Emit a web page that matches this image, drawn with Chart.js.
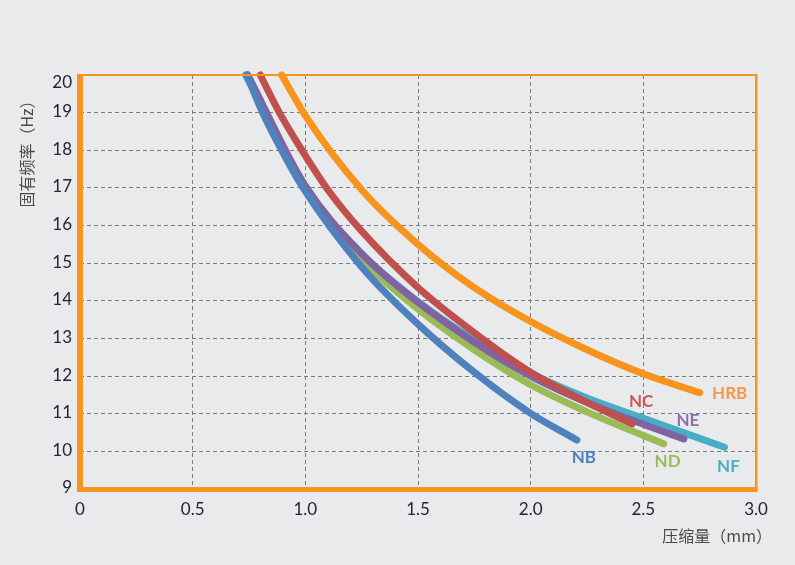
<!DOCTYPE html>
<html lang="zh">
<head>
    <meta charset="UTF-8">
    <title>固有频率 - 压缩量</title>
    <script src="https://cdn.jsdelivr.net/npm/chart.js"></script>
    <style>
        body {
            margin: 0;
            background-color: #e9eaec;
        }
        #wrap {
            width: 795px;
            height: 565px;
        }
    </style>
</head>
<body>

<div id="wrap">
    <canvas id="freqChart" width="795" height="565"></canvas>
</div>

<script>
    // 系列名称
    const seriesNames = ["NB", "NC", "ND", "NE", "NF", "HRB"];

    // 压缩量 (mm) 与 固有频率 (Hz)
    const nbX  = [0.74, 0.81, 0.895, 0.99, 1.25, 1.5, 1.75, 2.0, 2.205];
    const nbY  = [20, 19, 18, 17, 14.9, 13.38, 12.1, 11.01, 10.30];

    const ncX  = [0.80, 0.885, 0.985, 1.1, 1.25, 1.5, 1.75, 2.0, 2.25, 2.45];
    const ncY  = [20, 19, 18, 16.95, 15.85, 14.35, 13.15, 12.1, 11.3, 10.73];

    const ndX  = [0.74, 1.0, 1.25, 1.5, 1.75, 2.0, 2.25, 2.5, 2.59];
    const ndY  = [20, 16.95, 15.1, 13.78, 12.7, 11.77, 11.05, 10.42, 10.2];

    const neX  = [0.745, 1.0, 1.25, 1.5, 1.75, 2.0, 2.25, 2.5, 2.68];
    const neY  = [20, 17.05, 15.25, 13.96, 12.9, 12.0, 11.3, 10.72, 10.33];

    const nfX  = [0.735, 1.0, 1.25, 1.5, 1.75, 2.0, 2.25, 2.5, 2.86];
    const nfY  = [20, 17.05, 15.25, 13.98, 12.95, 12.08, 11.42, 10.88, 10.11];

    const hrbX = [0.895, 1.0, 1.25, 1.5, 1.75, 2.0, 2.25, 2.5, 2.75];
    const hrbY = [20, 18.92, 16.95, 15.5, 14.35, 13.45, 12.7, 12.06, 11.56];

    // 坐标轴刻度
    const xTicks = [0, 0.5, 1.0, 1.5, 2.0, 2.5, 3.0];
    const yTicks = [9, 10, 11, 12, 13, 14, 15, 16, 17, 18, 19, 20];

    const xValues = [nbX, ncX, ndX, neX, nfX, hrbX];
    const yValues = [nbY, ncY, ndY, neY, nfY, hrbY];

    // 样式
    const lineColors  = ['#4f81bd', '#c0504d', '#9bbb59', '#8064a2', '#4bacc6', '#f7941d'];
    const labelColors = ['#4f81bd', '#c55a57', '#9bbb59', '#8a6fac', '#4bacc6', '#f9964a'];
    const drawOrder   = [1, 2, 4, 3, 5, 0];
    // 标签相对于曲线末端的偏移 (px)
    const labelOffsets = [[7, 17], [9, -22], [4, 18], [4, -18], [4, 19], [30, 1]];

    const orange = '#f7941d';
    const tickFont = '17px Lato, sans-serif';
    const tickColor = '#23233a';

    const datasets = seriesNames.map((name, i) => ({
        label: name,
        data: xValues[i].map((x, j) => ({ x: x, y: yValues[i][j] })),
        borderColor: lineColors[i],
        backgroundColor: lineColors[i],
        borderWidth: 7,
        borderCapStyle: 'round',
        pointRadius: 0,
        showLine: true,
        cubicInterpolationMode: 'monotone',
        order: drawOrder[i],
        clip: 6
    }));

    // 边框、y 轴刻度文字、标题和曲线标签
    const decorPlugin = {
        id: 'decor',
        afterDatasetsDraw(chart) {
            const ctx = chart.ctx;
            const a = chart.chartArea;
            const yScale = chart.scales.y;
            ctx.save();
            ctx.fillStyle = orange;
            ctx.fillRect(a.left - 3, a.top - 1, a.right - a.left + 4, 2);
            ctx.fillRect(a.right - 1, a.top - 1, 2.5, a.bottom - a.top + 2);
            ctx.fillRect(a.left - 3, a.top - 1, 6, a.bottom - a.top + 4);
            ctx.fillRect(a.left - 3, a.bottom - 2, a.right - a.left + 4.5, 5);

            // y 轴刻度文字 (最上面的 20 向下移)
            ctx.font = tickFont;
            ctx.fillStyle = tickColor;
            ctx.textAlign = 'right';
            ctx.textBaseline = 'middle';
            yTicks.forEach(v => {
                let py = yScale.getPixelForValue(v) - 1;
                if (v === yTicks[yTicks.length - 1]) py += 9;
                ctx.fillText(String(v), a.left - 8, py);
            });

            // 曲线标签
            ctx.font = 'bold 17px Lato, "Open Sans", sans-serif';
            ctx.textAlign = 'center';
            chart.data.datasets.forEach((ds, i) => {
                const pts = chart.getDatasetMeta(i).data;
                const last = pts[pts.length - 1];
                ctx.fillStyle = labelColors[i];
                ctx.fillText(ds.label, last.x + labelOffsets[i][0], last.y + labelOffsets[i][1]);
            });

            // 轴标题
            ctx.fillStyle = '#4a4a4a';
            ctx.font = '16px "Noto Sans CJK SC", sans-serif';
            ctx.textAlign = 'right';
            ctx.fillText('压缩量（mm）', 772, 536);

            ctx.translate(27, 150);
            ctx.rotate(-Math.PI / 2);
            ctx.textAlign = 'center';
            ctx.fillText('固有频率（Hz）', 0, 0);
            ctx.restore();
        }
    };

    const ctx = document.getElementById('freqChart').getContext('2d');
    const freqChart = new Chart(ctx, {
        type: 'scatter',
        data: { datasets: datasets },
        plugins: [decorPlugin],
        options: {
            responsive: false,
            animation: false,
            devicePixelRatio: 1,
            layout: {
                padding: { left: 0, top: 75, right: 39, bottom: 0 }
            },
            plugins: {
                legend: { display: false },
                tooltip: { enabled: false }
            },
            scales: {
                x: {
                    type: 'linear',
                    min: xTicks[0],
                    max: xTicks[xTicks.length - 1],
                    afterFit: scale => { scale.height = 76; },
                    afterBuildTicks: scale => { scale.ticks = xTicks.map(v => ({ value: v })); },
                    grid: { color: '#7a7a7a', lineWidth: 1, drawTicks: false },
                    border: { display: false, dash: [4, 3] },
                    ticks: {
                        padding: 10,
                        color: tickColor,
                        font: { family: 'Lato', size: 17 },
                        maxRotation: 0,
                        callback: v => v === 0 ? '0' : v.toFixed(1)
                    }
                },
                y: {
                    type: 'linear',
                    min: yTicks[0],
                    max: yTicks[yTicks.length - 1],
                    afterFit: scale => { scale.width = 80; },
                    afterBuildTicks: scale => { scale.ticks = yTicks.map(v => ({ value: v })); },
                    grid: { color: '#7a7a7a', lineWidth: 1, drawTicks: false },
                    border: { display: false, dash: [4, 3] },
                    ticks: { display: false }
                }
            }
        }
    });
</script>

</body>
</html>
